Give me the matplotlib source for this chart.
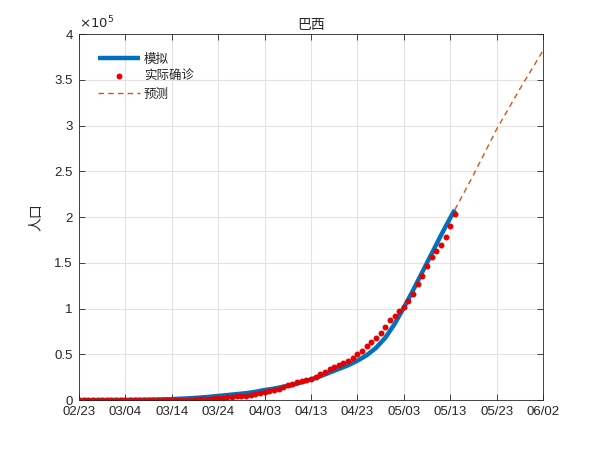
import matplotlib
matplotlib.use('Agg')
import matplotlib.pyplot as plt
from matplotlib.ticker import FuncFormatter

plt.rcParams['font.family'] = ['Liberation Sans', 'Noto Sans CJK SC', 'DejaVu Sans']

# days counted from 02/23
tick_days = [0, 10, 20, 30, 40, 50, 60, 70, 80, 90, 100]
tick_labels = ['02/23', '03/04', '03/14', '03/24', '04/03', '04/13',
               '04/23', '05/03', '05/13', '05/23', '06/02']

# actual confirmed cases, 02/23 .. 05/14 (one per day)
actual = [0, 0, 0, 1, 1, 1, 2, 2, 2, 2, 4, 4, 13, 13, 20, 25, 31, 38, 52, 151,
          151, 162, 200, 321, 372, 621, 793, 1021, 1546, 1924, 2247, 2554, 2985,
          3417, 3904, 4256, 4579, 5717, 6836, 8044, 9056, 10360, 11130, 12161,
          14034, 16170, 18092, 19638, 20727, 22192, 23430, 25262, 28320, 30425,
          33682, 36658, 38654, 40743, 43079, 45757, 50036, 54043, 59324, 63100,
          67446, 73235, 79685, 87187, 92202, 97100, 101826, 108620, 115455,
          126611, 135773, 146894, 156061, 162699, 169594, 178214, 190137, 203165]

# fitted model
model_days = [0, 5, 10, 15, 18, 20, 22, 24, 26, 28, 30, 32, 34, 36, 38, 40, 42, 44,
              46, 48, 50, 52, 54, 56, 58, 60, 62, 64, 66, 68, 70, 72, 74, 76, 78,
              80, 81]
model = [0, 50, 150, 400, 700, 1000, 1500, 2000, 2700, 3500, 4500, 5500, 6500,
         7500, 9000, 11000, 12500, 14500, 16500, 19500, 22500, 26000, 30000,
         34000, 38000, 43000, 49000, 57000, 68000, 83000, 101000, 120000,
         140000, 160000, 180000, 199000, 208000]

# prediction
pred_days = [81, 85, 90, 95, 100]
pred = [208000, 246000, 296000, 340000, 382000]

blue = (0, 0.447, 0.741)
orange = (0.85, 0.325, 0.098)

fig = plt.figure(figsize=(6, 4.49), dpi=100)
ax = fig.add_axes([0.1317, 0.109, 0.7733, 0.815])

ax.plot(model_days, model, color=blue, lw=3.2, label='模拟', solid_capstyle='butt')
ax.plot(range(len(actual)), actual, '.', color='#e60000', ms=6.5, label='实际确诊')
ax.plot(pred_days, pred, '--', color=orange, lw=1.0, dashes=(4, 3), label='预测')

ax.set_xlim(0, 100)
ax.set_ylim(0, 400000)
ax.set_xticks(tick_days)
ax.set_xticklabels(tick_labels)
ax.set_yticks([i * 50000 for i in range(9)])
ax.yaxis.set_major_formatter(FuncFormatter(lambda v, p: '%g' % (v / 1e5)))

ax.grid(True, color='#e3e3e3', lw=0.8)
ax.set_axisbelow(True)
ax.tick_params(direction='in', top=True, right=True, labelsize=9.5,
               colors='#262626', length=4, width=0.6, pad=4.5)
for s in ax.spines.values():
    s.set_color('#262626')
    s.set_linewidth(0.6)

ax.text(0, 1.008, r'$\times10^5$', transform=ax.transAxes, fontsize=9.5,
        color='#262626', ha='left', va='bottom')
ax.set_title('巴西', fontsize=10, color='#262626', pad=4,
             family=['Noto Sans CJK SC', 'DejaVu Sans'])
ax.set_ylabel('人口', fontsize=10, color='#262626', labelpad=8,
              family=['Noto Sans CJK SC', 'DejaVu Sans'])

leg = ax.legend(loc='upper left', frameon=False, numpoints=1, handlelength=3.4,
                handletextpad=0.3, labelspacing=0.35, borderaxespad=1.1,
                prop={'family': ['Noto Sans CJK SC', 'DejaVu Sans'], 'size': 9})
for t in leg.get_texts():
    t.set_color('#262626')

fig.savefig('out.png', dpi=100)
